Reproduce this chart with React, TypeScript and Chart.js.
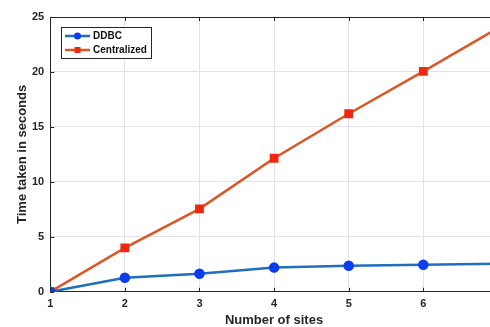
import React, { useEffect, useRef } from "react";
import { Chart, registerables } from "chart.js";

Chart.register(...registerables);

const sites = [1, 2, 3, 4, 5, 6, 7];
const ddbc = [0, 1.28, 1.64, 2.2, 2.37, 2.46, 2.56];
const centralized = [0, 4.0, 7.55, 12.15, 16.2, 20.05, 24.0];
const seriesLabels = ["DDBC", "Centralized"];
const xTitle = "Number of sites";
const yTitle = "Time taken in seconds";

const FONT = "'Liberation Sans', Arial, sans-serif";

const boxPlugin = {
  id: "boxPlugin",
  afterDraw(chart: any) {
    const { ctx, chartArea, scales } = chart;
    const { left, right, top, bottom } = chartArea;
    ctx.save();
    ctx.strokeStyle = "#262626";
    ctx.lineWidth = 1;
    ctx.beginPath();
    ctx.moveTo(left, top + 0.5);
    ctx.lineTo(right, top + 0.5);
    ctx.stroke();
    const xs = scales.x;
    xs.ticks.forEach((t: any) => {
      const px = Math.round(xs.getPixelForValue(t.value)) + 0.5;
      ctx.beginPath();
      ctx.moveTo(px, top);
      ctx.lineTo(px, top + 4);
      ctx.moveTo(px, bottom);
      ctx.lineTo(px, bottom - 4);
      ctx.stroke();
    });
    const ys = scales.y;
    ys.ticks.forEach((t: any) => {
      const py = Math.round(ys.getPixelForValue(t.value)) + 0.5;
      ctx.beginPath();
      ctx.moveTo(left, py);
      ctx.lineTo(left + 4, py);
      ctx.stroke();
    });
    // axis titles
    ctx.fillStyle = "#262626";
    ctx.font = `bold 13px ${FONT}`;
    ctx.textAlign = "center";
    ctx.textBaseline = "middle";
    ctx.fillText(xTitle, 274, 320);
    ctx.save();
    ctx.translate(22, (top + bottom) / 2);
    ctx.rotate(-Math.PI / 2);
    ctx.fillText(yTitle, 0, 0);
    ctx.restore();
    // legend
    const lx = 61, ly = 27, lw = 90, lh = 31;
    ctx.fillStyle = "#ffffff";
    ctx.fillRect(lx, ly, lw, lh);
    ctx.strokeStyle = "#262626";
    ctx.strokeRect(lx + 0.5, ly + 0.5, lw, lh);
    chart.data.datasets.forEach((ds: any, i: number) => {
      const cy = ly + 9 + i * 14;
      ctx.strokeStyle = ds.borderColor;
      ctx.lineWidth = 2.5;
      ctx.beginPath();
      ctx.moveTo(65, cy);
      ctx.lineTo(90, cy);
      ctx.stroke();
      ctx.fillStyle = ds.pointBackgroundColor;
      if (ds.pointStyle === "rect") {
        ctx.fillRect(77.5 - 3, cy - 3, 6, 6);
      } else {
        ctx.beginPath();
        ctx.arc(77.5, cy, 3.5, 0, Math.PI * 2);
        ctx.fill();
      }
      ctx.fillStyle = "#111111";
      ctx.font = `bold 10px ${FONT}`;
      ctx.textBaseline = "middle";
      ctx.textAlign = "left";
      ctx.fillText(ds.label, 93, cy + 0.5);
    });
    ctx.restore();
  },
};

export default function App() {
  const ref = useRef<HTMLCanvasElement | null>(null);
  useEffect(() => {
    if (!ref.current) return;
    const chart = new Chart(ref.current, {
      type: "line",
      data: {
        datasets: [
          {
            label: seriesLabels[0],
            data: sites.map((s, i) => ({ x: s, y: ddbc[i] })),
            borderColor: "#1f6fbf",
            backgroundColor: "#1f6fbf",
            pointBackgroundColor: "#0a3cf0",
            pointBorderColor: "#0a3cf0",
            pointStyle: "circle",
            pointRadius: 4,
            borderWidth: 2.5,
            tension: 0,
          },
          {
            label: seriesLabels[1],
            data: sites.map((s, i) => ({ x: s, y: centralized[i] })),
            borderColor: "#dd5525",
            backgroundColor: "#dd5525",
            pointBackgroundColor: "#f02810",
            pointBorderColor: "#f02810",
            pointStyle: "rect",
            pointRadius: 4.5,
            borderWidth: 2.5,
            tension: 0,
          },
        ],
      },
      options: {
        responsive: false,
        animation: false,
        devicePixelRatio: 1,
        layout: { padding: { top: 17, right: 4, bottom: 10, left: 26 } },
        plugins: { legend: { display: false }, tooltip: { enabled: false } },
        scales: {
          x: {
            type: "linear",
            min: 1,
            max: 7,
            ticks: {
              stepSize: 1,
              color: "#262626",
              font: { family: FONT, size: 11, weight: "bold" },
              padding: 6,
            },
            grid: { color: "#e3e3e3", tickLength: 0 },
            border: { display: true, color: "#262626", width: 1 },
            title: { display: false, text: xTitle },
          },
          y: {
            min: 0,
            max: 25,
            ticks: {
              stepSize: 5,
              color: "#262626",
              font: { family: FONT, size: 11, weight: "bold" },
              padding: 6,
            },
            grid: { color: "#e3e3e3", tickLength: 0 },
            border: { display: true, color: "#262626", width: 1 },
            title: { display: false, text: yTitle },
          },
        },
      },
      plugins: [boxPlugin],
    } as any);
    return () => chart.destroy();
  }, []);
  return (
    <div
      style={{
        position: "fixed",
        left: 0,
        top: 0,
        width: 490,
        height: 327,
        overflow: "hidden",
        background: "#fff",
      }}
    >
      <canvas ref={ref} width={507} height={327} style={{ width: 507, height: 327, display: "block" }} />
    </div>
  );
}
